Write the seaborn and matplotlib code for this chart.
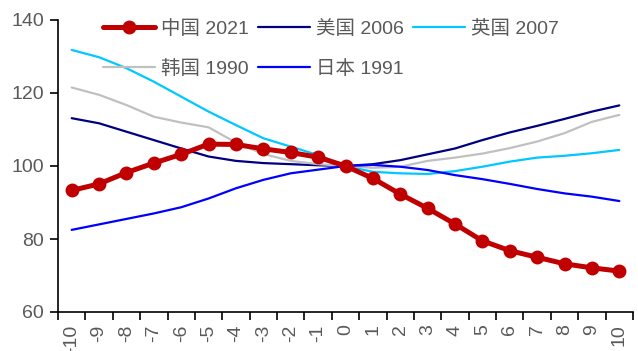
import numpy as np
import pandas as pd
import matplotlib
matplotlib.use("Agg")
import matplotlib.pyplot as plt
import seaborn as sns
from matplotlib.ticker import FixedLocator

# Years relative to the reference point (0 = base year, index = 100)
years = list(range(-10, 11))

china_2021 = [93.3, 95.1, 98.2, 100.8, 103.2, 106.0, 105.9, 104.7, 103.7, 102.4, 100.0,
              96.6, 92.3, 88.4, 84.1, 79.5, 76.8, 75.0, 73.2, 72.1, 71.2]
usa_2006 = [113.1, 111.7, 109.4, 107.1, 104.8, 102.6, 101.4, 100.8, 100.5, 100.2, 100.0,
            100.5, 101.6, 103.2, 104.8, 107.1, 109.2, 111.0, 112.9, 114.9, 116.6]
uk_2007 = [131.8, 129.8, 126.8, 123.1, 119.0, 114.9, 111.2, 107.6, 105.3, 103.0, 100.0,
           98.4, 98.0, 97.8, 98.6, 99.8, 101.2, 102.3, 102.8, 103.5, 104.4]
korea_1990 = [121.5, 119.5, 116.7, 113.5, 111.9, 110.6, 106.4, 103.3, 101.4, 100.5, 100.0,
              99.5, 99.8, 101.4, 102.3, 103.4, 104.9, 106.7, 109.0, 112.1, 114.0]
japan_1991 = [82.5, 84.0, 85.5, 87.0, 88.7, 91.1, 93.9, 96.2, 98.0, 99.0, 100.0,
              100.3, 99.8, 98.9, 97.5, 96.4, 95.1, 93.7, 92.5, 91.6, 90.4]

series_labels = ["中国 2021", "美国 2006", "英国 2007", "韩国 1990", "日本 1991"]
series_values = [china_2021, usa_2006, uk_2007, korea_1990, japan_1991]
series_colors = ["#C00000", "#000080", "#00C8FF", "#C0C0C0", "#0000FF"]

sns.set_theme(style="white")
plt.rcParams["font.family"] = ["Liberation Sans", "Noto Sans CJK SC", "DejaVu Sans"]
text_color = "#595959"

fig = plt.figure(figsize=(6.38, 3.51), dpi=100)
ax = fig.add_axes([58 / 638, 1 - 312 / 351, 575 / 638, 292 / 351])

for label, values, color in zip(series_labels, series_values, series_colors):
    if label == "中国 2021":
        continue
    df = pd.DataFrame({"year": years, "value": values})
    sns.lineplot(data=df, x="year", y="value", ax=ax, color=color, linewidth=1.6,
                 label=label, zorder=2)

# China drawn last, on top, with markers
df_cn = pd.DataFrame({"year": years, "value": china_2021})
sns.lineplot(data=df_cn, x="year", y="value", ax=ax, color="#C00000", linewidth=3.6,
             marker="o", markersize=10, markeredgewidth=0, label="中国 2021", zorder=3)

ax.set_xlim(-10.5, 10.5)
ax.set_ylim(60, 140)
ax.set_yticks([60, 80, 100, 120, 140])
ax.set_xlabel("")
ax.set_ylabel("")

# Category labels centred on each year, tick marks between categories
ax.xaxis.set_major_locator(FixedLocator(years))
ax.set_xticklabels([str(y) for y in years], rotation=90, va="top", ha="center")
ax.xaxis.set_minor_locator(FixedLocator(np.arange(-10.5, 11.0, 1.0)))
ax.tick_params(axis="x", which="major", length=0, pad=9, labelsize=14, labelcolor=text_color)
ax.tick_params(axis="x", which="minor", length=6, width=1.2, color="black", direction="out", bottom=True)
ax.tick_params(axis="y", which="major", length=6, width=1.2, color="black", direction="out",
               left=True, labelsize=14, labelcolor=text_color, pad=4)

for side in ["top", "right"]:
    ax.spines[side].set_visible(False)
for side in ["left", "bottom"]:
    ax.spines[side].set_color("black")
    ax.spines[side].set_linewidth(1.2)

h, l = ax.get_legend_handles_labels()
lookup = dict(zip(l, h))
order = ["中国 2021", "韩国 1990", "美国 2006", "日本 1991", "英国 2007"]
leg = ax.legend([lookup[k] for k in order], order, ncol=3, loc="upper left",
                bbox_to_anchor=(0.078, 1.0), frameon=False, fontsize=14,
                handlelength=2.7, handletextpad=0.3, columnspacing=0.45,
                labelspacing=1.15, borderpad=0, borderaxespad=0)
for t in leg.get_texts():
    t.set_color(text_color)

fig.savefig("out.png", dpi=100)
